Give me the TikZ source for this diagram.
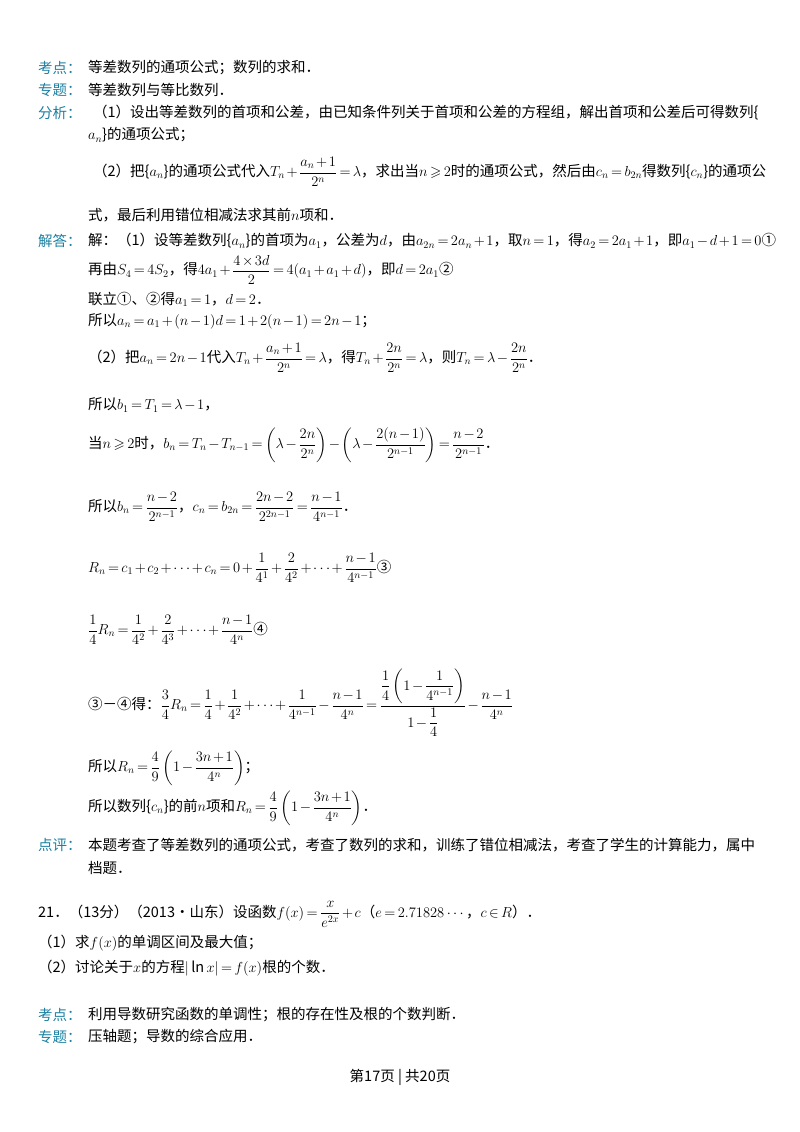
\RequirePackage{fix-cm}
\documentclass[tikz,border=0pt]{standalone}
\usepackage{amsmath,amssymb}
\usepackage{fontspec}
\setmainfont{Noto Sans CJK SC}
\definecolor{lab}{HTML}{1A7FA0}
\medmuskip=2mu plus 1mu
\thickmuskip=3mu plus 2mu
\begin{document}
\begin{tikzpicture}[x=1pt,y=-1pt,
  t/.style={anchor=west,inner sep=0pt,font=\fontsize{14.5}{17}\selectfont},
  l/.style={t,text=lab}]
\useasboundingbox (0,0) rectangle (800,1132);
\node[l] (k1) at (38,68) {考点：};
\node[t] (k1t) at (88,68) {等差数列的通项公式；数列的求和．};
\node[l] (z1) at (38,90) {专题：};
\node[t] (z1t) at (88,90) {等差数列与等比数列．};
\node[l] (f1) at (38,113) {分析：};
\node[t] (f1t) at (93,113) {（1）设出等差数列的首项和公差，由已知条件列关于首项和公差的方程组，解出首项和公差后可得数列\{};
\node[t] (f2t) at (88,135) {$a_n$\}的通项公式；};
\node[t] (f3t) at (93,172) {（2）把\{$a_n$\}的通项公式代入$T_n+\dfrac{a_n+1}{2^n}=\lambda$，求出当$n\geqslant2$时的通项公式，然后由$c_n=b_{2n}$得数列\{$c_n$\}的通项公};
\node[t] (f4t) at (88,215) {式，最后利用错位相减法求其前$n$项和．};
\node[l] (j1) at (38,241) {解答：};
\node[t] (j1t) at (88,241) {解：（1）设等差数列\{$a_n$\}的首项为$a_1$，公差为$d$，由$a_{2n}=2a_n+1$，取$n=1$，得$a_2=2a_1+1$，即$a_1-d+1=0$①};
\node[t] (j2) at (88,270) {再由$S_4=4S_2$，得$4a_1+\dfrac{4\times3d}{2}=4(a_1+a_1+d)$，即$d=2a_1$②};
\node[t] (j3) at (88,299) {联立①、②得$a_1=1$，$d=2$．};
\node[t] (j4) at (88,321) {所以$a_n=a_1+(n-1)d=1+2(n-1)=2n-1$；};
\node[t] (j5) at (88,358) {（2）把$a_n=2n-1$代入$T_n+\dfrac{a_n+1}{2^n}=\lambda$，得$T_n+\dfrac{2n}{2^n}=\lambda$，则$T_n=\lambda-\dfrac{2n}{2^n}$．};
\node[t] (j6) at (88,405) {所以$b_1=T_1=\lambda-1$，};
\node[t] (j7) at (88,445) {当$n\geqslant2$时，$b_n=T_n-T_{n-1}=\left(\lambda-\dfrac{2n}{2^n}\right)-\left(\lambda-\dfrac{2(n-1)}{2^{n-1}}\right)=\dfrac{n-2}{2^{n-1}}$．};
\node[t] (j8) at (88,507) {所以$b_n=\dfrac{n-2}{2^{n-1}}$，$c_n=b_{2n}=\dfrac{2n-2}{2^{2n-1}}=\dfrac{n-1}{4^{n-1}}$．};
\node[t] (j9) at (88,568) {$R_n=c_1+c_2+\cdots+c_n=0+\dfrac{1}{4^1}+\dfrac{2}{4^2}+\cdots+\dfrac{n-1}{4^{n-1}}$③};
\node[t] (j10) at (88,630) {$\dfrac14R_n=\dfrac{1}{4^2}+\dfrac{2}{4^3}+\cdots+\dfrac{n-1}{4^n}$④};
\node[t] (j11) at (88,703) {③－④得：$\dfrac34R_n=\dfrac14+\dfrac{1}{4^2}+\cdots+\dfrac{1}{4^{n-1}}-\dfrac{n-1}{4^n}=\dfrac{\dfrac14\left(1-\dfrac{1}{4^{n-1}}\right)}{1-\dfrac14}-\dfrac{n-1}{4^n}$};
\node[t] (j12) at (88,768) {所以$R_n=\dfrac49\left(1-\dfrac{3n+1}{4^n}\right)$；};
\node[t] (j13) at (88,808) {所以数列\{$c_n$\}的前$n$项和$R_n=\dfrac49\left(1-\dfrac{3n+1}{4^n}\right)$．};
\node[l] (d1) at (38,845) {点评：};
\node[t] (d1t) at (88,845) {本题考查了等差数列的通项公式，考查了数列的求和，训练了错位相减法，考查了学生的计算能力，属中};
\node[t] (d2t) at (88,868) {档题．};
\node[t] (q) at (38,914) {21．（13分）（2013•山东）设函数$f(x)=\dfrac{x}{e^{2x}}+c$（$e=2.71828\cdots$，$c\in R$）．};
\node[t] (q1) at (38,943) {（1）求$f(x)$的单调区间及最大值；};
\node[t] (q2) at (38,968) {（2）讨论关于$x$的方程$|\ln x|=f(x)$根的个数．};
\node[l] (k2) at (38,1015) {考点：};
\node[t] (k2t) at (88,1015) {利用导数研究函数的单调性；根的存在性及根的个数判断．};
\node[l] (z2) at (38,1037) {专题：};
\node[t] (z2t) at (88,1037) {压轴题；导数的综合应用．};
\node[t,anchor=center] (ft) at (400,1077) {第17页 | 共20页};
\end{tikzpicture}
\end{document}
